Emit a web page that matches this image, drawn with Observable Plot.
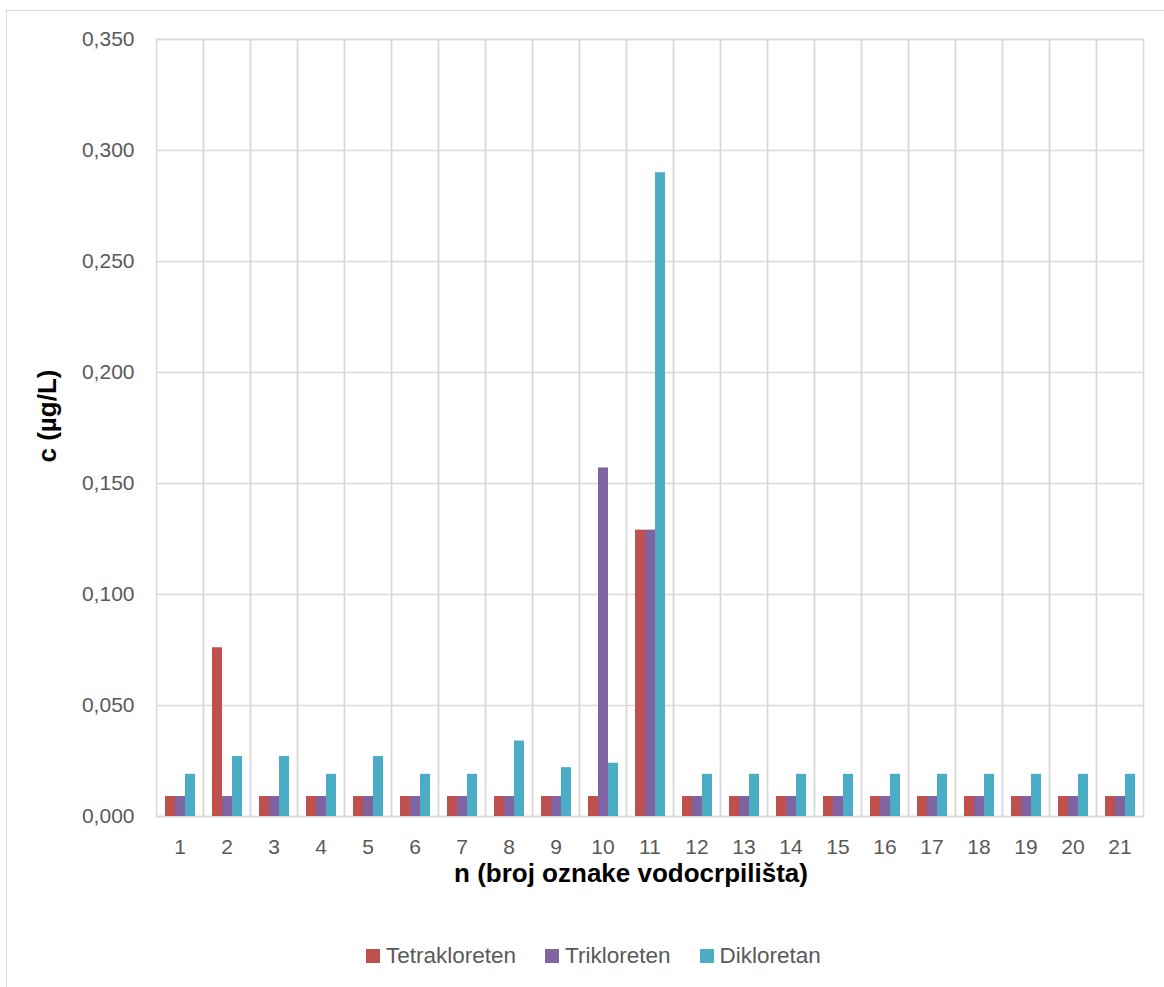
<!DOCTYPE html>
<html>
<head>
<meta charset="utf-8">
<script src="https://cdn.jsdelivr.net/npm/d3@7"></script>
<script src="https://cdn.jsdelivr.net/npm/@observablehq/plot@0.6"></script>
<style>
  html, body { margin: 0; padding: 0; background: #fff; overflow: hidden; }
  body { position: relative; width: 1164px; height: 987px; font-family: "Liberation Sans", Arial, sans-serif; }
  #border { position: absolute; left: 6px; top: 10px; width: 1200px; height: 1000px; border: 1px solid #d9d9d9; box-sizing: border-box; }
  #chart { position: absolute; left: 0; top: 0; }
  .title { position: absolute; font-weight: bold; color: #000; font-size: 26px; line-height: 1; white-space: nowrap; }
  #xtitle { left: 631px; top: 860px; transform: translateX(-50%); }
  #ytitle { left: 47px; top: 416px; transform: translate(-50%, -50%) rotate(-90deg); }
  #legend { position: absolute; left: 366px; top: 943px; display: flex; align-items: center; font-size: 22.5px; color: #595959; }
  .item { display: flex; align-items: center; margin-right: 29px; }
  .sw { width: 14px; height: 14px; margin-right: 6px; }
</style>
</head>
<body>
<div id="border"></div>
<div id="chart"></div>
<div id="xtitle" class="title">n (broj oznake vodocrpilišta)</div>
<div id="ytitle" class="title">c (µg/L)</div>
<div id="legend"></div>
<script>
const categories = [1,2,3,4,5,6,7,8,9,10,11,12,13,14,15,16,17,18,19,20,21];
const seriesNames = ["Tetrakloreten", "Trikloreten", "Dikloretan"];
const seriesColors = ["#c0504d", "#8064a2", "#4bacc6"];
const tetrakloreten = [0.009,0.076,0.009,0.009,0.009,0.009,0.009,0.009,0.009,0.009,0.129,0.009,0.009,0.009,0.009,0.009,0.009,0.009,0.009,0.009,0.009];
const trikloreten   = [0.009,0.009,0.009,0.009,0.009,0.009,0.009,0.009,0.009,0.157,0.129,0.009,0.009,0.009,0.009,0.009,0.009,0.009,0.009,0.009,0.009];
const dikloretan    = [0.019,0.027,0.027,0.019,0.027,0.019,0.019,0.034,0.022,0.024,0.290,0.019,0.019,0.019,0.019,0.019,0.019,0.019,0.019,0.019,0.019];
const yTicks = [0,0.05,0.10,0.15,0.20,0.25,0.30,0.35];

const seriesValues = [tetrakloreten, trikloreten, dikloretan];
const rows = [];
categories.forEach((n, i) => {
  seriesNames.forEach((s, j) => rows.push({n, series: s, value: seriesValues[j][i]}));
});

const fmt = d => d3.format(".3f")(d).replace(".", ",");

const chart = Plot.plot({
  width: 1164,
  height: 900,
  marginLeft: 155,
  marginRight: 21,
  marginTop: 39,
  marginBottom: 84,
  style: {fontFamily: "'Liberation Sans', Arial, sans-serif", fontSize: "21px", color: "#595959", background: "transparent"},
  fx: {domain: categories, padding: 0},
  x: {domain: seriesNames, paddingInner: 0, paddingOuter: 0.706, axis: null},
  y: {domain: [0, 0.35]},
  color: {domain: seriesNames, range: seriesColors},
  marks: [
    Plot.gridY(yTicks, {stroke: "#d9d9d9", strokeOpacity: 1, strokeWidth: 1.5}),
    Plot.frame({stroke: "#d9d9d9", strokeWidth: 1.5}),
    Plot.barY(rows, {fx: "n", x: "series", y: "value", fill: "series"}),
    Plot.axisY(yTicks, {tickFormat: fmt, tickSize: 0, tickPadding: 22, label: null, fontSize: 21}),
    Plot.axisFx({anchor: "bottom", tickSize: 0, tickPadding: 23, label: null, fontSize: 21})
  ]
});
document.getElementById("chart").appendChild(chart);

const legend = document.getElementById("legend");
seriesNames.forEach((s, j) => {
  const item = document.createElement("div");
  item.className = "item";
  const sw = document.createElement("div");
  sw.className = "sw";
  sw.style.background = seriesColors[j];
  const t = document.createElement("span");
  t.textContent = s;
  item.appendChild(sw);
  item.appendChild(t);
  legend.appendChild(item);
});
</script>
</body>
</html>
